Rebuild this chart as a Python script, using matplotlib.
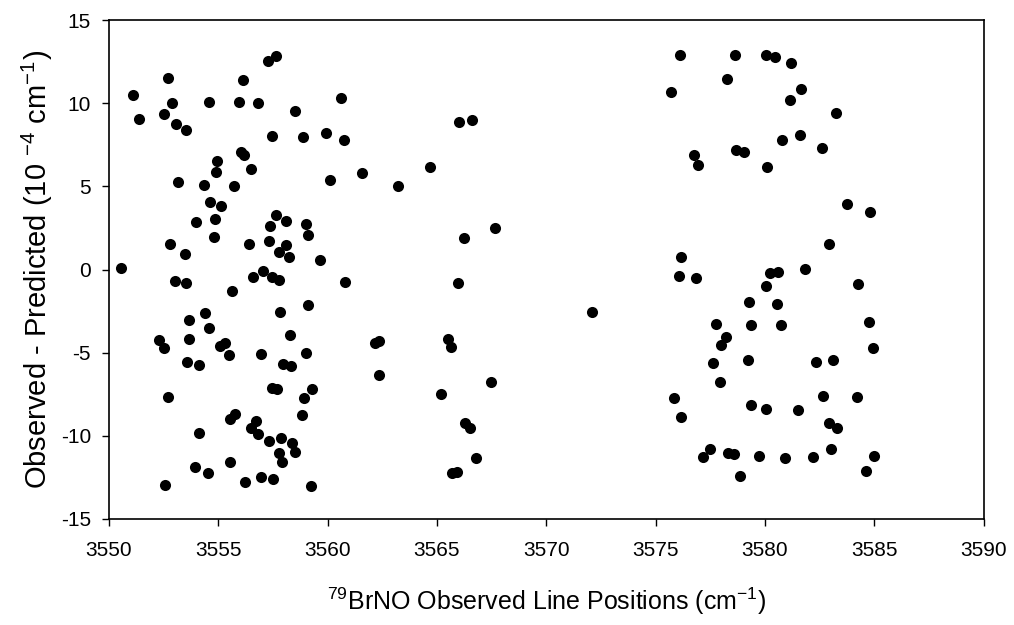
import matplotlib
matplotlib.use("Agg")
import matplotlib.pyplot as plt

plt.rcParams["font.family"] = ["Liberation Sans", "DejaVu Sans"]
plt.rcParams["mathtext.fontset"] = "custom"
plt.rcParams["mathtext.rm"] = "Liberation Sans"
plt.rcParams["mathtext.it"] = "Liberation Sans"
plt.rcParams["mathtext.bf"] = "Liberation Sans"
plt.rcParams["axes.unicode_minus"] = False

# line positions (cm-1) and residuals (10^-4 cm-1)
left_x = [3550.56, 3551.11, 3551.39, 3552.70, 3552.88, 3552.50, 3553.05, 3553.53, 3554.57, 3555.96,
          3556.13, 3556.81, 3557.28, 3557.62, 3557.45, 3556.02, 3556.16, 3556.49, 3554.95, 3554.91,
          3553.16, 3554.36, 3555.70, 3554.63, 3555.13, 3553.99, 3554.83, 3554.78, 3552.80, 3553.49,
          3556.42, 3557.33, 3557.35, 3557.64, 3557.79, 3558.11, 3559.00, 3559.10, 3558.10, 3558.22,
          3559.65, 3557.06, 3553.03, 3553.52, 3555.61, 3556.58, 3557.47, 3557.78, 3557.80, 3554.41,
          3553.67, 3554.56, 3553.67, 3552.30, 3552.51, 3555.06, 3555.29, 3555.47, 3556.95, 3553.58,
          3554.13, 3557.97, 3558.31, 3552.70, 3557.45, 3557.67, 3555.53, 3555.75, 3554.11, 3556.51,
          3556.74, 3556.80, 3557.33, 3557.85, 3557.78, 3557.93, 3555.53, 3553.93, 3554.53, 3556.20,
          3556.95, 3557.50, 3552.58, 3560.59, 3558.52, 3558.89, 3559.94, 3560.73, 3561.55, 3560.12,
          3563.21, 3564.69, 3560.81, 3559.10, 3558.29, 3559.00, 3562.16, 3562.36, 3562.35, 3559.28,
          3558.90, 3558.84, 3558.38, 3558.49, 3559.24]
left_y = [0.10, 10.49, 9.05, 11.50, 10.03, 9.33, 8.73, 8.37, 10.05, 10.09,
          11.39, 9.99, 12.54, 12.84, 8.05, 7.05, 6.87, 6.06, 6.54, 5.84,
          5.24, 5.08, 5.00, 4.06, 3.80, 2.84, 3.05, 1.94, 1.51, 0.91,
          1.55, 1.70, 2.64, 3.30, 1.07, 2.92, 2.74, 2.07, 1.50, 0.77,
          0.60, -0.09, -0.67, -0.83, -1.31, -0.47, -0.47, -0.65, -2.58, -2.64,
          -3.04, -3.54, -4.18, -4.24, -4.72, -4.58, -4.44, -5.12, -5.08, -5.58,
          -5.74, -5.68, -5.78, -7.65, -7.13, -7.20, -8.97, -8.67, -9.81, -9.51,
          -9.13, -9.87, -10.33, -10.15, -11.05, -11.59, -11.59, -11.89, -12.26, -12.76,
          -12.48, -12.60, -12.94, 10.33, 9.51, 7.99, 8.21, 7.77, 5.82, 5.38,
          5.02, 6.15, -0.75, -2.13, -3.96, -5.04, -4.40, -4.28, -6.34, -7.19,
          -7.75, -8.73, -10.43, -10.99, -13.02]

mid_x = [3565.17, 3566.02, 3566.60, 3567.66, 3566.25, 3565.97, 3572.10, 3565.51, 3565.66, 3567.47,
         3566.28, 3566.52, 3566.77, 3565.70, 3565.93]
mid_y = [-7.50, 8.89, 9.01, 2.48, 1.89, -0.79, -2.58, -4.20, -4.64, -6.79,
         -9.25, -9.55, -11.36, -12.26, -12.16]

right_x = [3575.70, 3576.12, 3578.62, 3580.04, 3580.45, 3581.17, 3578.26, 3581.64, 3581.15, 3583.24,
           3580.77, 3581.60, 3582.59, 3580.09, 3576.75, 3576.96, 3578.68, 3579.05, 3583.76, 3584.80,
           3582.93, 3581.82, 3580.22, 3580.59, 3576.16, 3576.05, 3576.83, 3580.04, 3584.25, 3580.57,
           3580.75, 3584.77, 3584.95, 3582.34, 3583.12, 3582.66, 3584.22, 3580.07, 3581.49, 3582.92,
           3583.28, 3583.01, 3579.75, 3580.92, 3582.20, 3584.98, 3584.61, 3579.26, 3577.77, 3579.36,
           3578.21, 3578.00, 3577.62, 3579.21, 3577.94, 3575.86, 3576.17, 3579.36, 3577.49, 3577.15,
           3578.30, 3578.58, 3578.85]
right_y = [10.68, 12.92, 12.90, 12.90, 12.80, 12.40, 11.47, 10.87, 10.21, 9.43,
           7.77, 8.11, 7.33, 6.15, 6.89, 6.28, 7.19, 7.08, 3.92, 3.46,
           1.55, 0.03, -0.19, -0.15, 0.77, -0.39, -0.53, -0.97, -0.85, -2.07,
           -3.34, -3.16, -4.70, -5.54, -5.46, -7.63, -7.65, -8.39, -8.43, -9.25,
           -9.51, -10.78, -11.22, -11.35, -11.29, -11.19, -12.12, -1.95, -3.30, -3.36,
           -4.08, -4.56, -5.60, -5.44, -6.78, -7.73, -8.85, -8.15, -10.79, -11.27,
           -11.05, -11.09, -12.40]

x_ticks = [3550, 3555, 3560, 3565, 3570, 3575, 3580, 3585, 3590]
y_ticks = [-15, -10, -5, 0, 5, 10, 15]

fig = plt.figure(figsize=(10.14, 6.25), dpi=100)
ax = fig.add_axes([0.1075, 0.1696, 0.8625, 0.7984])

for xs, ys in [(left_x, left_y), (mid_x, mid_y), (right_x, right_y)]:
    ax.plot(xs, ys, "o", color="black", markersize=8, markeredgewidth=0)

ax.set_xlim(3550, 3590)
ax.set_ylim(-15, 15)
ax.set_xticks(x_ticks)
ax.set_yticks(y_ticks)
ax.tick_params(direction="out", length=5, width=1, labelsize=15, colors="black")
ax.tick_params(axis="x", pad=11)
ax.tick_params(axis="y", pad=8)
for s in ax.spines.values():
    s.set_linewidth(1.2)

ax.set_ylabel(r"Observed - Predicted (10 $^{-4}$ cm$^{-1}$)", fontsize=21, labelpad=4)
ax.set_xlabel(r"$^{79}$BrNO Observed Line Positions (cm$^{-1}$)", fontsize=18, labelpad=18)

fig.savefig("out.png", dpi=100)
